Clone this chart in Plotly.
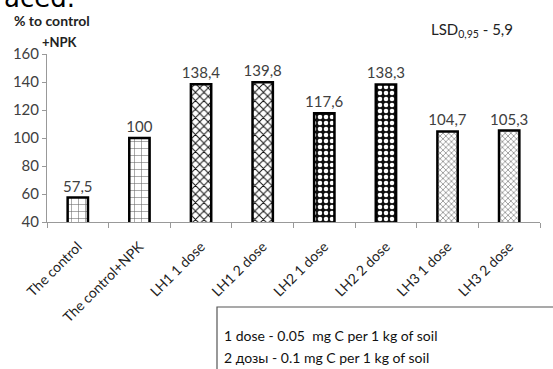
import plotly.graph_objects as go

categories = ["The control", "The control+NPK", "LH1 1 dose", "LH1 2 dose",
              "LH2 1 dose", "LH2 2 dose", "LH3 1 dose", "LH3 2 dose"]
values = [57.5, 100, 138.4, 139.8, 117.6, 138.3, 104.7, 105.3]
value_labels = ["57,5", "100", "138,4", "139,8", "117,6", "138,3", "104,7", "105,3"]
y_ticks = [40, 60, 80, 100, 120, 140, 160]

pat_shapes = ["+", "+", "x", "x", ".", ".", "x", "x"]
pat_fg = ["#666666", "#666666", "#111111", "#111111", "#ffffff", "#ffffff", "#888888", "#888888"]
pat_bg = ["#ffffff", "#ffffff", "#ffffff", "#ffffff", "#111111", "#111111", "#ffffff", "#ffffff"]
pat_size = [7, 7, 6, 6, 6, 6, 4, 4]
pat_sol = [0.15, 0.15, 0.3, 0.3, 0.45, 0.45, 0.35, 0.35]

FONT = "Lato, Open Sans, sans-serif"

fig = go.Figure()
fig.add_trace(go.Bar(
    x=categories, y=values, width=0.33,
    text=value_labels, textposition="outside", cliponaxis=False, constraintext="none",
    textfont=dict(family=FONT, size=15, color="#404040"),
    marker=dict(color="white", line=dict(color="black", width=2.5),
                pattern=dict(shape=pat_shapes, fgcolor=pat_fg, bgcolor=pat_bg,
                             size=pat_size, solidity=pat_sol, fillmode="replace")),
    hoverinfo="skip",
))

fig.update_layout(
    width=553, height=369,
    margin=dict(l=47, r=13, t=54, b=147),
    plot_bgcolor="white", paper_bgcolor="white",
    showlegend=False,
    font=dict(family=FONT, color="#404040"),
)
fig.update_yaxes(range=[40, 160], tickvals=y_ticks, showgrid=False,
                 showline=True, linecolor="#999999", linewidth=1,
                 ticks="outside", ticklen=4, tickcolor="#999999",
                 tickfont=dict(family=FONT, size=15, color="#404040"), zeroline=False)
fig.update_xaxes(showgrid=False, showline=True, linecolor="#999999", linewidth=1,
                 ticks="outside", ticklen=5, tickcolor="#999999", tickson="boundaries",
                 tickangle=-45, ticklabelstandoff=10,
                 tickfont=dict(family=FONT, size=14, color="#222222"))

# y-axis title
fig.add_annotation(text="<b>% to control</b>", xref="paper", yref="paper",
                   x=-0.07, y=1.20, xanchor="left", yanchor="middle", showarrow=False,
                   font=dict(family=FONT, size=14, color="#222222"))
fig.add_annotation(text="<b>+NPK</b>", xref="paper", yref="paper",
                   x=-0.015, y=1.072, xanchor="left", yanchor="middle", showarrow=False,
                   font=dict(family=FONT, size=13, color="#222222"))
# cut-off text at top
fig.add_annotation(text="aced.", xref="paper", yref="paper",
                   x=-0.092, y=1.335, xanchor="left", yanchor="middle", showarrow=False,
                   font=dict(family="DejaVu Sans", size=26, color="#000000"))
# LSD
fig.add_annotation(text="LSD<sub>0,95</sub> - 5,9", xref="paper", yref="paper",
                   x=0.775, y=1.14, xanchor="left", yanchor="middle", showarrow=False,
                   font=dict(family=FONT, size=15, color="#222222"))

# legend box
fig.add_shape(type="rect", xref="paper", yref="paper",
              x0=(217 - 47) / 493, x1=1.1, y0=-1.0, y1=-(307 - 222) / 168,
              line=dict(color="#555555", width=1.2), fillcolor="rgba(0,0,0,0)")
fig.add_annotation(text="1 dose - 0.05  mg C per 1 kg of soil", xref="paper", yref="paper",
                   x=(222 - 47) / 493, y=-(335 - 222) / 168, xanchor="left", yanchor="middle",
                   showarrow=False, font=dict(family=FONT, size=14, color="#111111"))
fig.add_annotation(text="2 дозы - 0.1 mg C per 1 kg of soil", xref="paper", yref="paper",
                   x=(222 - 47) / 493, y=-(357 - 222) / 168, xanchor="left", yanchor="middle",
                   showarrow=False, font=dict(family=FONT, size=14, color="#111111"))

fig.write_html("out.html", config={"displayModeBar": False},
               post_script="document.body.style.margin='0';document.body.style.overflow='hidden';")
